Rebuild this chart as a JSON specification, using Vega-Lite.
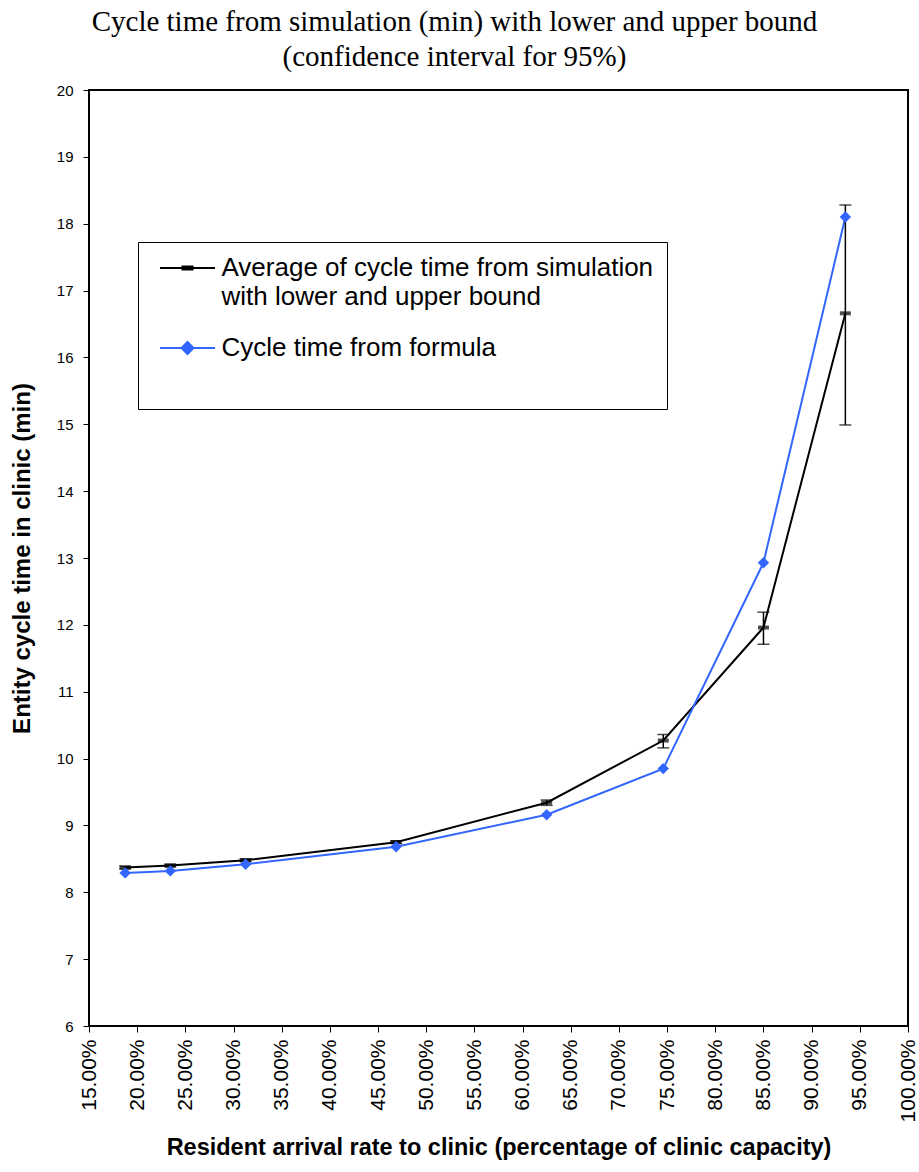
{
  "$schema": "https://vega.github.io/schema/vega-lite/v6.json",
  "autosize": "none",
  "width": 819,
  "height": 936,
  "padding": {"left": 89, "top": 90, "right": 11, "bottom": 146},
  "background": "white",
  "title": {
    "text": ["Cycle time from simulation (min) with lower and upper bound", "(confidence interval for 95%)"],
    "font": "Liberation Serif",
    "fontSize": 29,
    "fontWeight": "normal",
    "color": "black",
    "anchor": "middle",
    "frame": "group",
    "dx": -44,
    "offset": 11,
    "lineHeight": 35
  },
  "config": {
    "view": {"stroke": "black", "strokeWidth": 2},
    "axis": {
      "grid": false,
      "domain": false,
      "tickColor": "black",
      "tickSize": 6,
      "tickWidth": 1,
      "labelColor": "black",
      "titleColor": "black",
      "labelFont": "Liberation Sans",
      "titleFont": "Liberation Sans",
      "titleFontWeight": "bold"
    }
  },
  "data": {
    "values": [
      {"rate": 0.1875, "series": "sim", "time": 8.37, "lower": 8.35, "upper": 8.39},
      {"rate": 0.234375, "series": "sim", "time": 8.40, "lower": 8.38, "upper": 8.42},
      {"rate": 0.3125, "series": "sim", "time": 8.48, "lower": 8.46, "upper": 8.50},
      {"rate": 0.46875, "series": "sim", "time": 8.75, "lower": 8.73, "upper": 8.77},
      {"rate": 0.625, "series": "sim", "time": 9.34, "lower": 9.30, "upper": 9.38},
      {"rate": 0.746, "series": "sim", "time": 10.27, "lower": 10.16, "upper": 10.36},
      {"rate": 0.85, "series": "sim", "time": 11.96, "lower": 11.71, "upper": 12.19},
      {"rate": 0.935, "series": "sim", "time": 16.66, "lower": 14.99, "upper": 18.28},
      {"rate": 0.1875, "series": "formula", "time": 8.29},
      {"rate": 0.234375, "series": "formula", "time": 8.32},
      {"rate": 0.3125, "series": "formula", "time": 8.42},
      {"rate": 0.46875, "series": "formula", "time": 8.68},
      {"rate": 0.625, "series": "formula", "time": 9.16},
      {"rate": 0.746, "series": "formula", "time": 9.85},
      {"rate": 0.85, "series": "formula", "time": 12.93},
      {"rate": 0.935, "series": "formula", "time": 18.10}
    ]
  },
  "encoding": {
    "x": {
      "field": "rate",
      "type": "quantitative",
      "scale": {"domain": [0.15, 1.0], "nice": false, "zero": false},
      "axis": {
        "values": [0.15, 0.2, 0.25, 0.3, 0.35, 0.4, 0.45, 0.5, 0.55, 0.6, 0.65, 0.7, 0.75, 0.8, 0.85, 0.9, 0.95, 1.0],
        "format": ".2%",
        "labelAngle": -90,
        "labelAlign": "right",
        "labelBaseline": "middle",
        "labelFontSize": 21,
        "labelPadding": 7,
        "labelOverlap": false,
        "labelFlush": false,
        "title": "Resident arrival rate to clinic (percentage of clinic capacity)",
        "titleFontSize": 23.5,
        "titlePadding": 14
      }
    },
    "y": {
      "field": "time",
      "type": "quantitative",
      "scale": {"domain": [6, 20], "nice": false, "zero": false},
      "axis": {
        "values": [6, 7, 8, 9, 10, 11, 12, 13, 14, 15, 16, 17, 18, 19, 20],
        "labelFontSize": 15,
        "labelPadding": 10,
        "labelFlush": false,
        "title": "Entity cycle time in clinic (min)",
        "titleFontSize": 24,
        "titlePadding": 22
      }
    }
  },
  "layer": [
    {
      "mark": {"type": "line", "strokeWidth": 2},
      "encoding": {
        "color": {
          "field": "series",
          "type": "nominal",
          "scale": {"domain": ["sim", "formula"], "range": ["black", "#3366FF"]},
          "legend": {
            "title": " ",
            "titleOrient": "bottom",
            "titleFontSize": 22,
            "titlePadding": 14,
            "orient": "none",
            "legendX": 49,
            "legendY": 152,
            "strokeColor": "black",
            "fillColor": "white",
            "padding": 13,
            "labelFont": "Liberation Sans",
            "labelFontSize": 26,
            "labelColor": "black",
            "labelLimit": 0,
            "labelOffset": 21,
            "symbolSize": 400,
            "symbolOffset": 23.5,
            "symbolStrokeWidth": 2,
            "rowPadding": 25,
            "labelExpr": "datum.value === 'sim' ? ['Average of cycle time from simulation', 'with lower and upper bound'] : 'Cycle time from formula'",
            "encode": {
              "labels": {"update": {"lineHeight": {"value": 29}}},
              "symbols": {
                "update": {
                  "shape": {"signal": "datum.value === 'sim' ? 'M-2.75,0H2.75M-0.5,-0.15H0.5V0.15H-0.5Z' : 'M-2.75,0H2.75M0,-0.6L0.6,0L0,0.6L-0.6,0Z'"},
                  "fill": {"signal": "datum.value === 'sim' ? 'black' : '#3366FF'"},
                  "stroke": {"signal": "datum.value === 'sim' ? 'black' : '#3366FF'"},
                  "strokeWidth": {"value": 2},
                  "opacity": {"value": 1},
                  "fillOpacity": {"value": 1}
                }
              }
            }
          }
        }
      }
    },
    {
      "transform": [{"filter": "datum.series === 'sim'"}],
      "mark": {"type": "rule", "color": "black", "strokeWidth": 1.5},
      "encoding": {
        "y": {"field": "lower", "type": "quantitative"},
        "y2": {"field": "upper"}
      }
    },
    {
      "transform": [{"filter": "datum.series === 'sim'"}],
      "mark": {"type": "tick", "orient": "horizontal", "color": "black", "size": 12, "thickness": 1.5},
      "encoding": {"y": {"field": "lower", "type": "quantitative"}}
    },
    {
      "transform": [{"filter": "datum.series === 'sim'"}],
      "mark": {"type": "tick", "orient": "horizontal", "color": "black", "size": 12, "thickness": 1.5},
      "encoding": {"y": {"field": "upper", "type": "quantitative"}}
    },
    {
      "transform": [{"filter": "datum.series === 'sim'"}],
      "mark": {"type": "tick", "orient": "horizontal", "color": "black", "size": 11, "thickness": 4},
      "encoding": {}
    },
    {
      "transform": [{"filter": "datum.series === 'formula'"}],
      "mark": {"type": "point", "shape": "diamond", "filled": true, "color": "#3366FF", "size": 130, "opacity": 1},
      "encoding": {}
    }
  ]
}
